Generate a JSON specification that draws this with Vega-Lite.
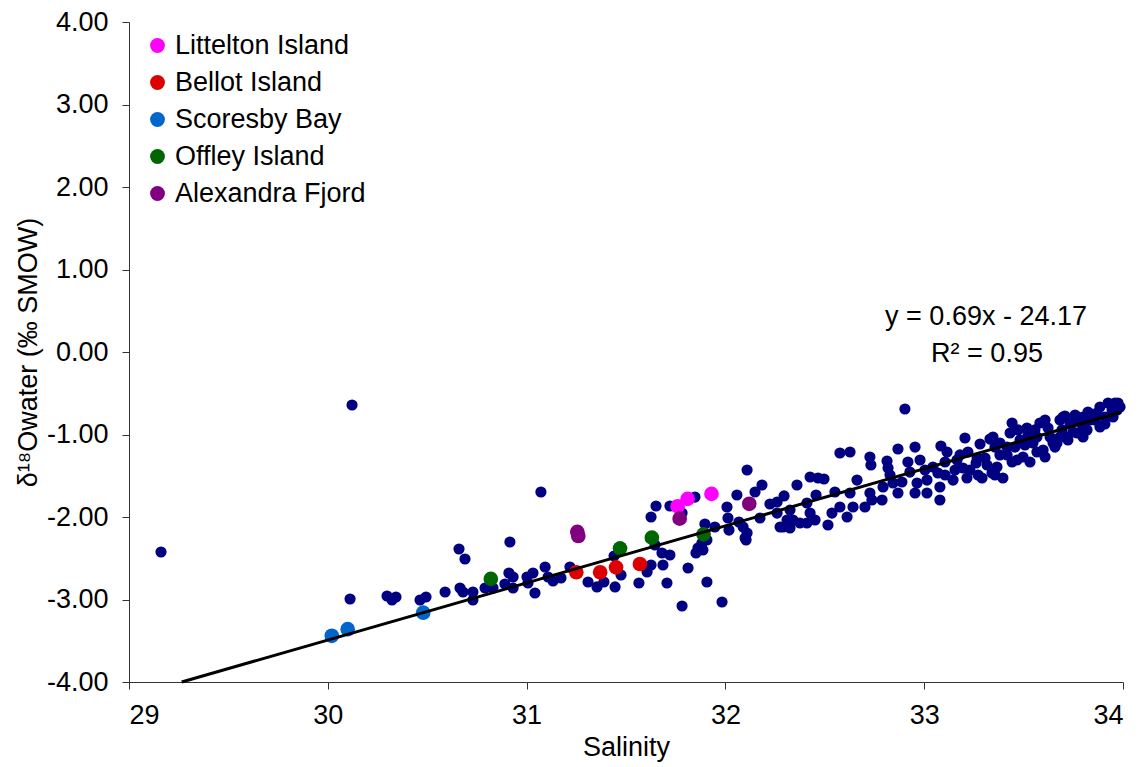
{
  "$schema": "https://vega.github.io/schema/vega-lite/v6.json",
  "width": 994,
  "height": 660,
  "autosize": {"type": "none"},
  "padding": {"left": 129, "top": 22, "right": 22, "bottom": 85},
  "background": "white",
  "config": {
    "view": {"stroke": null},
    "font": "Liberation Sans",
    "axis": {"grid": false, "domainColor": "#333", "tickColor": "#333", "labelColor": "#000", "titleColor": "#000", "labelFont": "Liberation Sans", "titleFont": "Liberation Sans", "labelFontSize": 27, "titleFontSize": 27, "titleFontWeight": "normal", "tickSize": 7}
  },
  "datasets": {
    "pts": [
      {"S": 29.161, "O": -2.424, "site": "Other"},
      {"S": 30.122, "O": -0.642, "site": "Other"},
      {"S": 30.112, "O": -2.994, "site": "Other"},
      {"S": 30.298, "O": -2.958, "site": "Other"},
      {"S": 30.323, "O": -3.006, "site": "Other"},
      {"S": 30.343, "O": -2.970, "site": "Other"},
      {"S": 30.464, "O": -3.006, "site": "Other"},
      {"S": 30.494, "O": -2.970, "site": "Other"},
      {"S": 30.590, "O": -2.909, "site": "Other"},
      {"S": 30.660, "O": -2.388, "site": "Other"},
      {"S": 30.690, "O": -2.509, "site": "Other"},
      {"S": 30.665, "O": -2.861, "site": "Other"},
      {"S": 30.680, "O": -2.909, "site": "Other"},
      {"S": 30.730, "O": -2.909, "site": "Other"},
      {"S": 30.730, "O": -3.006, "site": "Other"},
      {"S": 30.791, "O": -2.861, "site": "Other"},
      {"S": 30.831, "O": -2.861, "site": "Other"},
      {"S": 30.911, "O": -2.679, "site": "Other"},
      {"S": 30.932, "O": -2.727, "site": "Other"},
      {"S": 30.891, "O": -2.812, "site": "Other"},
      {"S": 30.932, "O": -2.861, "site": "Other"},
      {"S": 30.916, "O": -2.303, "site": "Other"},
      {"S": 31.002, "O": -2.727, "site": "Other"},
      {"S": 31.032, "O": -2.679, "site": "Other"},
      {"S": 31.042, "O": -2.921, "site": "Other"},
      {"S": 31.007, "O": -2.800, "site": "Other"},
      {"S": 31.072, "O": -1.697, "site": "Other"},
      {"S": 31.093, "O": -2.606, "site": "Other"},
      {"S": 31.108, "O": -2.727, "site": "Other"},
      {"S": 31.133, "O": -2.776, "site": "Other"},
      {"S": 31.173, "O": -2.739, "site": "Other"},
      {"S": 31.218, "O": -2.606, "site": "Other"},
      {"S": 31.309, "O": -2.788, "site": "Other"},
      {"S": 31.354, "O": -2.848, "site": "Other"},
      {"S": 31.389, "O": -2.788, "site": "Other"},
      {"S": 31.445, "O": -2.848, "site": "Other"},
      {"S": 31.475, "O": -2.703, "site": "Other"},
      {"S": 31.440, "O": -2.473, "site": "Other"},
      {"S": 31.565, "O": -2.800, "site": "Other"},
      {"S": 31.606, "O": -2.667, "site": "Other"},
      {"S": 31.626, "O": -2.582, "site": "Other"},
      {"S": 31.686, "O": -2.582, "site": "Other"},
      {"S": 31.706, "O": -2.800, "site": "Other"},
      {"S": 31.782, "O": -3.079, "site": "Other"},
      {"S": 31.812, "O": -2.618, "site": "Other"},
      {"S": 31.907, "O": -2.788, "site": "Other"},
      {"S": 31.983, "O": -3.030, "site": "Other"},
      {"S": 31.626, "O": -2.000, "site": "Other"},
      {"S": 31.651, "O": -1.867, "site": "Other"},
      {"S": 31.721, "O": -1.867, "site": "Other"},
      {"S": 31.646, "O": -2.339, "site": "Other"},
      {"S": 31.681, "O": -2.436, "site": "Other"},
      {"S": 31.721, "O": -2.461, "site": "Other"},
      {"S": 31.847, "O": -1.758, "site": "Other"},
      {"S": 31.852, "O": -2.436, "site": "Other"},
      {"S": 31.882, "O": -2.315, "site": "Other"},
      {"S": 31.862, "O": -2.376, "site": "Other"},
      {"S": 31.897, "O": -2.085, "site": "Other"},
      {"S": 31.947, "O": -2.121, "site": "Other"},
      {"S": 32.008, "O": -1.879, "site": "Other"},
      {"S": 32.013, "O": -2.012, "site": "Other"},
      {"S": 32.018, "O": -2.158, "site": "Other"},
      {"S": 32.058, "O": -1.733, "site": "Other"},
      {"S": 32.109, "O": -1.430, "site": "Other"},
      {"S": 32.149, "O": -1.697, "site": "Other"},
      {"S": 32.184, "O": -1.612, "site": "Other"},
      {"S": 32.109, "O": -2.194, "site": "Other"},
      {"S": 32.099, "O": -2.255, "site": "Other"},
      {"S": 32.089, "O": -2.121, "site": "Other"},
      {"S": 32.174, "O": -2.012, "site": "Other"},
      {"S": 32.224, "O": -1.842, "site": "Other"},
      {"S": 32.260, "O": -1.818, "site": "Other"},
      {"S": 32.295, "O": -1.745, "site": "Other"},
      {"S": 32.275, "O": -2.121, "site": "Other"},
      {"S": 32.325, "O": -2.133, "site": "Other"},
      {"S": 32.360, "O": -1.612, "site": "Other"},
      {"S": 32.340, "O": -2.036, "site": "Other"},
      {"S": 31.782, "O": -1.952, "site": "Other"},
      {"S": 31.887, "O": -2.400, "site": "Other"},
      {"S": 32.068, "O": -2.061, "site": "Other"},
      {"S": 32.426, "O": -1.515, "site": "Other"},
      {"S": 32.466, "O": -1.527, "site": "Other"},
      {"S": 32.496, "O": -1.539, "site": "Other"},
      {"S": 32.456, "O": -1.733, "site": "Other"},
      {"S": 32.410, "O": -1.830, "site": "Other"},
      {"S": 32.426, "O": -1.952, "site": "Other"},
      {"S": 32.410, "O": -2.073, "site": "Other"},
      {"S": 32.451, "O": -2.036, "site": "Other"},
      {"S": 32.516, "O": -2.097, "site": "Other"},
      {"S": 32.536, "O": -1.952, "site": "Other"},
      {"S": 32.551, "O": -1.697, "site": "Other"},
      {"S": 32.576, "O": -1.224, "site": "Other"},
      {"S": 32.627, "O": -1.212, "site": "Other"},
      {"S": 32.662, "O": -1.552, "site": "Other"},
      {"S": 32.576, "O": -1.879, "site": "Other"},
      {"S": 32.612, "O": -2.000, "site": "Other"},
      {"S": 32.642, "O": -1.879, "site": "Other"},
      {"S": 32.325, "O": -1.915, "site": "Other"},
      {"S": 32.260, "O": -1.952, "site": "Other"},
      {"S": 32.310, "O": -2.036, "site": "Other"},
      {"S": 32.375, "O": -2.073, "site": "Other"},
      {"S": 32.290, "O": -2.121, "site": "Other"},
      {"S": 32.104, "O": -2.279, "site": "Other"},
      {"S": 32.727, "O": -1.273, "site": "Other"},
      {"S": 32.732, "O": -1.370, "site": "Other"},
      {"S": 32.813, "O": -1.321, "site": "Other"},
      {"S": 32.818, "O": -1.406, "site": "Other"},
      {"S": 32.868, "O": -1.176, "site": "Other"},
      {"S": 32.954, "O": -1.152, "site": "Other"},
      {"S": 33.084, "O": -1.139, "site": "Other"},
      {"S": 33.115, "O": -1.212, "site": "Other"},
      {"S": 33.205, "O": -1.042, "site": "Other"},
      {"S": 33.281, "O": -1.115, "site": "Other"},
      {"S": 33.331, "O": -1.055, "site": "Other"},
      {"S": 33.356, "O": -1.152, "site": "Other"},
      {"S": 32.627, "O": -1.709, "site": "Other"},
      {"S": 32.702, "O": -1.879, "site": "Other"},
      {"S": 32.727, "O": -1.709, "site": "Other"},
      {"S": 32.788, "O": -1.794, "site": "Other"},
      {"S": 32.793, "O": -1.636, "site": "Other"},
      {"S": 32.828, "O": -1.491, "site": "Other"},
      {"S": 32.868, "O": -1.709, "site": "Other"},
      {"S": 32.888, "O": -1.576, "site": "Other"},
      {"S": 32.918, "O": -1.333, "site": "Other"},
      {"S": 32.928, "O": -1.455, "site": "Other"},
      {"S": 32.964, "O": -1.588, "site": "Other"},
      {"S": 32.954, "O": -1.709, "site": "Other"},
      {"S": 33.014, "O": -1.552, "site": "Other"},
      {"S": 33.014, "O": -1.709, "site": "Other"},
      {"S": 33.044, "O": -1.394, "site": "Other"},
      {"S": 33.069, "O": -1.467, "site": "Other"},
      {"S": 33.079, "O": -1.636, "site": "Other"},
      {"S": 33.079, "O": -1.794, "site": "Other"},
      {"S": 33.105, "O": -1.333, "site": "Other"},
      {"S": 33.145, "O": -1.552, "site": "Other"},
      {"S": 33.165, "O": -1.309, "site": "Other"},
      {"S": 33.195, "O": -1.406, "site": "Other"},
      {"S": 33.215, "O": -1.527, "site": "Other"},
      {"S": 33.220, "O": -1.212, "site": "Other"},
      {"S": 33.266, "O": -1.285, "site": "Other"},
      {"S": 33.271, "O": -1.491, "site": "Other"},
      {"S": 33.291, "O": -1.527, "site": "Other"},
      {"S": 33.316, "O": -1.370, "site": "Other"},
      {"S": 33.341, "O": -1.467, "site": "Other"},
      {"S": 33.366, "O": -1.394, "site": "Other"},
      {"S": 32.843, "O": -1.588, "site": "Other"},
      {"S": 32.737, "O": -1.794, "site": "Other"},
      {"S": 32.903, "O": -0.691, "site": "Other"},
      {"S": 33.442, "O": -0.861, "site": "Other"},
      {"S": 33.432, "O": -0.982, "site": "Other"},
      {"S": 33.472, "O": -0.945, "site": "Other"},
      {"S": 33.522, "O": -1.006, "site": "Other"},
      {"S": 33.582, "O": -0.861, "site": "Other"},
      {"S": 33.608, "O": -0.824, "site": "Other"},
      {"S": 33.683, "O": -0.824, "site": "Other"},
      {"S": 33.708, "O": -0.776, "site": "Other"},
      {"S": 33.759, "O": -0.764, "site": "Other"},
      {"S": 33.824, "O": -0.727, "site": "Other"},
      {"S": 33.884, "O": -0.667, "site": "Other"},
      {"S": 33.925, "O": -0.618, "site": "Other"},
      {"S": 33.960, "O": -0.618, "site": "Other"},
      {"S": 33.985, "O": -0.667, "site": "Other"},
      {"S": 33.950, "O": -0.788, "site": "Other"},
      {"S": 33.909, "O": -0.788, "site": "Other"},
      {"S": 33.834, "O": -0.824, "site": "Other"},
      {"S": 33.799, "O": -0.909, "site": "Other"},
      {"S": 33.769, "O": -0.982, "site": "Other"},
      {"S": 33.723, "O": -1.067, "site": "Other"},
      {"S": 33.668, "O": -1.103, "site": "Other"},
      {"S": 33.658, "O": -1.152, "site": "Other"},
      {"S": 33.598, "O": -1.188, "site": "Other"},
      {"S": 33.567, "O": -1.212, "site": "Other"},
      {"S": 33.497, "O": -1.273, "site": "Other"},
      {"S": 33.467, "O": -1.309, "site": "Other"},
      {"S": 33.417, "O": -1.248, "site": "Other"},
      {"S": 33.356, "O": -1.491, "site": "Other"},
      {"S": 33.346, "O": -1.030, "site": "Other"},
      {"S": 33.547, "O": -1.103, "site": "Other"},
      {"S": 33.507, "O": -1.127, "site": "Other"},
      {"S": 33.733, "O": -0.861, "site": "Other"},
      {"S": 33.693, "O": -0.945, "site": "Other"},
      {"S": 33.799, "O": -0.788, "site": "Other"},
      {"S": 33.869, "O": -0.739, "site": "Other"},
      {"S": 33.945, "O": -0.703, "site": "Other"},
      {"S": 33.749, "O": -0.970, "site": "Other"},
      {"S": 33.633, "O": -1.030, "site": "Other"},
      {"S": 33.567, "O": -1.030, "site": "Other"},
      {"S": 33.180, "O": -1.248, "site": "Other"},
      {"S": 33.261, "O": -1.345, "site": "Other"},
      {"S": 33.381, "O": -1.103, "site": "Other"},
      {"S": 33.417, "O": -1.152, "site": "Other"},
      {"S": 33.442, "O": -1.333, "site": "Other"},
      {"S": 33.884, "O": -0.909, "site": "Other"},
      {"S": 33.819, "O": -0.945, "site": "Other"},
      {"S": 33.799, "O": -1.030, "site": "Other"},
      {"S": 33.718, "O": -1.030, "site": "Other"},
      {"S": 33.648, "O": -1.103, "site": "Other"},
      {"S": 33.517, "O": -0.921, "site": "Other"},
      {"S": 33.698, "O": -0.788, "site": "Other"},
      {"S": 33.975, "O": -0.618, "site": "Other"},
      {"S": 31.907, "O": -2.279, "site": "Other"},
      {"S": 33.396, "O": -1.527, "site": "Other"},
      {"S": 33.532, "O": -1.333, "site": "Other"},
      {"S": 33.608, "O": -1.273, "site": "Other"},
      {"S": 33.859, "O": -0.824, "site": "Other"},
      {"S": 33.909, "O": -0.873, "site": "Other"},
      {"S": 33.970, "O": -0.703, "site": "Other"},
      {"S": 33.784, "O": -0.848, "site": "Other"},
      {"S": 33.683, "O": -1.030, "site": "Other"},
      {"S": 33.623, "O": -0.921, "site": "Other"},
      {"S": 33.557, "O": -0.945, "site": "Other"},
      {"S": 33.482, "O": -1.067, "site": "Other"},
      {"S": 33.457, "O": -1.152, "site": "Other"},
      {"S": 33.381, "O": -1.248, "site": "Other"},
      {"S": 33.306, "O": -1.285, "site": "Other"},
      {"S": 33.230, "O": -1.430, "site": "Other"},
      {"S": 33.155, "O": -1.430, "site": "Other"},
      {"S": 33.105, "O": -1.491, "site": "Other"},
      {"S": 33.004, "O": -1.430, "site": "Other"},
      {"S": 32.979, "O": -1.309, "site": "Other"},
      {"S": 30.02, "O": -3.44, "site": "Scoresby Bay"},
      {"S": 30.10, "O": -3.36, "site": "Scoresby Bay"},
      {"S": 30.48, "O": -3.16, "site": "Scoresby Bay"},
      {"S": 30.82, "O": -2.75, "site": "Offley Island"},
      {"S": 31.47, "O": -2.38, "site": "Offley Island"},
      {"S": 31.63, "O": -2.25, "site": "Offley Island"},
      {"S": 31.89, "O": -2.21, "site": "Offley Island"},
      {"S": 31.25, "O": -2.67, "site": "Bellot Island"},
      {"S": 31.37, "O": -2.67, "site": "Bellot Island"},
      {"S": 31.45, "O": -2.61, "site": "Bellot Island"},
      {"S": 31.57, "O": -2.57, "site": "Bellot Island"},
      {"S": 31.76, "O": -1.87, "site": "Littelton Island"},
      {"S": 31.81, "O": -1.78, "site": "Littelton Island"},
      {"S": 31.93, "O": -1.72, "site": "Littelton Island"},
      {"S": 31.255, "O": -2.18, "site": "Alexandra Fjord"},
      {"S": 31.26, "O": -2.23, "site": "Alexandra Fjord"},
      {"S": 31.77, "O": -2.02, "site": "Alexandra Fjord"},
      {"S": 32.12, "O": -1.84, "site": "Alexandra Fjord"}
    ],
    "fit": [
      {"S": 29.265, "O": -4.0},
      {"S": 33.99, "O": -0.73}
    ],
    "notes": [
      {"S": 33.311, "O": 0.424, "label": "y = 0.69x - 24.17"},
      {"S": 33.316, "O": -0.024, "label": "R² = 0.95"}
    ]
  },
  "layer": [
    {
      "data": {"name": "pts"},
      "transform": [{"filter": "datum.site === 'Other'"}],
      "mark": {"type": "circle", "size": 125, "opacity": 1, "color": "#000080"},
      "encoding": {
        "x": {"field": "S", "type": "quantitative", "scale": {"domain": [29, 34], "nice": false, "zero": false},
          "axis": {"title": "Salinity", "values": [29, 30, 31, 32, 33, 34], "format": "d", "labelPadding": 13, "titlePadding": 6}},
        "y": {"field": "O", "type": "quantitative", "scale": {"domain": [-4, 4], "nice": false, "zero": false},
          "axis": {"title": "δ¹⁸Owater (‰ SMOW)", "values": [-4, -3, -2, -1, 0, 1, 2, 3, 4], "labelExpr": "datum.value < 0 ? '-' + format(-datum.value, '.2f') : format(datum.value, '.2f')", "labelPadding": 14, "titlePadding": 4}}
      }
    },
    {
      "data": {"name": "pts"},
      "transform": [{"filter": "datum.site !== 'Other'"}],
      "mark": {"type": "circle", "size": 215, "opacity": 1},
      "encoding": {
        "x": {"field": "S", "type": "quantitative"},
        "y": {"field": "O", "type": "quantitative"},
        "color": {"field": "site", "type": "nominal",
          "scale": {"domain": ["Littelton Island", "Bellot Island", "Scoresby Bay", "Offley Island", "Alexandra Fjord"],
                    "range": ["#FF00FF", "#DD0000", "#0066CC", "#006600", "#800080"]},
          "legend": {"title": null, "orient": "none", "legendX": 15, "legendY": 10, "symbolType": "circle", "symbolSize": 220, "labelFontSize": 27, "labelFont": "Liberation Sans", "labelColor": "#000", "labelLimit": 400, "rowPadding": 9, "labelOffset": 4, "padding": 0, "symbolStrokeWidth": 0}}
      }
    },
    {
      "data": {"name": "fit"},
      "mark": {"type": "line", "color": "#000", "strokeWidth": 3},
      "encoding": {
        "x": {"field": "S", "type": "quantitative"},
        "y": {"field": "O", "type": "quantitative"}
      }
    },
    {
      "data": {"name": "notes"},
      "mark": {"type": "text", "fontSize": 27, "font": "Liberation Sans", "align": "center", "baseline": "middle", "color": "#000"},
      "encoding": {
        "x": {"field": "S", "type": "quantitative"},
        "y": {"field": "O", "type": "quantitative"},
        "text": {"field": "label"}
      }
    }
  ]
}
